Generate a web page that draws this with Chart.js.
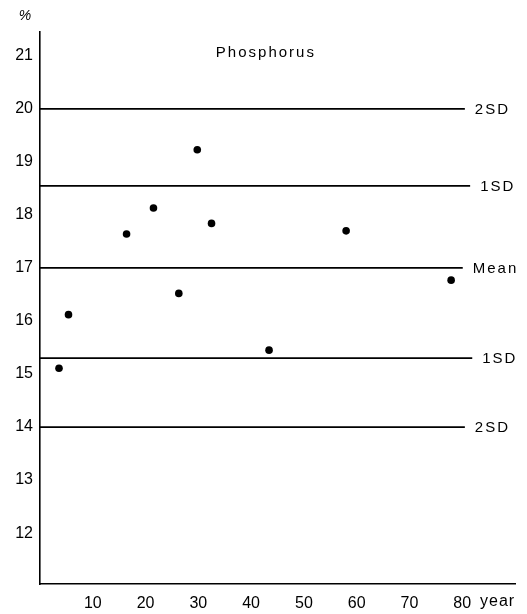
<!DOCTYPE html>
<html>
<head>
<meta charset="utf-8">
<script src="https://cdn.jsdelivr.net/npm/chart.js@4.4.1/dist/chart.umd.min.js"></script>
<style>
    html, body { margin: 0; padding: 0; background: #fff; }
    canvas { display: block; }
</style>
</head>
<body>
<canvas id="chart" width="527" height="614"></canvas>
<script>
// ==================== DATA ====================

// age (years) and phosphorus (%) of each sample
const ages = [3.6, 5.4, 16.4, 21.5, 26.3, 29.8, 32.5, 43.4, 58.0, 77.9];
const phosphorus = [15.11, 16.12, 17.64, 18.13, 16.52, 19.23, 17.84, 15.45, 17.70, 16.77];

// reference lines (mean and standard deviations)
const refLabels = ['2SD', '1SD', 'Mean', '1SD', '2SD'];
const refLevels = [20.0, 18.55, 17.0, 15.3, 14.0];
const refEnds = [80.5, 81.5, 80.1, 81.9, 80.5];

const xTicks = [10, 20, 30, 40, 50, 60, 70, 80];
const yTicks = [12, 13, 14, 15, 16, 17, 18, 19, 20, 21];

const FONT = "'Liberation Sans', Arial, sans-serif";
const INK = '#000';

// ==================== CHART ====================

const refDatasets = refLevels.map((level, i) => ({
    label: refLabels[i],
    data: [{ x: 0, y: level }, { x: refEnds[i], y: level }],
    showLine: true,
    borderColor: INK,
    borderWidth: 1.8,
    pointRadius: 0
}));

// textes libres : titre, unités, étiquettes des lignes
const annotations = {
    id: 'annotations',
    afterDraw(chart) {
        const ctx = chart.ctx;
        const x = chart.scales.x;
        const y = chart.scales.y;
        ctx.save();
        ctx.fillStyle = INK;
        ctx.textBaseline = 'middle';

        ctx.font = '15px ' + FONT;
        ctx.letterSpacing = '2px';
        ctx.textAlign = 'left';
        refLevels.forEach((level, i) => {
            ctx.fillText(refLabels[i], x.getPixelForValue(refEnds[i]) + 10, y.getPixelForValue(level) + 1);
        });

        ctx.textAlign = 'center';
        ctx.fillText('Phosphorus', x.getPixelForValue(42.8), y.getPixelForValue(21.05));

        ctx.letterSpacing = '1px';
        ctx.font = '16px ' + FONT;
        ctx.textAlign = 'left';
        ctx.fillText('year', chart.chartArea.right - 35, 602);

        ctx.letterSpacing = '0px';
        ctx.font = 'italic 14px ' + FONT;
        ctx.textAlign = 'center';
        ctx.fillText('%', 25, 16);
        ctx.restore();
    }
};

new Chart(document.getElementById('chart'), {
    type: 'scatter',
    data: {
        datasets: [
            ...refDatasets,
            {
                label: 'Phosphorus',
                data: ages.map((a, i) => ({ x: a, y: phosphorus[i] })),
                backgroundColor: INK,
                borderColor: INK,
                pointRadius: 3.8,
                pointBorderWidth: 0
            }
        ]
    },
    options: {
        responsive: false,
        animation: false,
        layout: {
            padding: { top: 32, right: 12, left: 0, bottom: 0 }
        },
        plugins: {
            legend: { display: false },
            tooltip: { enabled: false }
        },
        scales: {
            x: {
                type: 'linear',
                min: 0,
                max: 90,
                afterFit: (axis) => { axis.height = 30; },
                afterBuildTicks: (axis) => { axis.ticks = xTicks.map(v => ({ value: v })); },
                grid: { display: false, drawTicks: false },
                border: { display: true, color: INK, width: 1.6 },
                ticks: {
                    color: INK,
                    padding: 10,
                    maxRotation: 0,
                    font: { family: FONT, size: 16 }
                }
            },
            y: {
                type: 'linear',
                min: 11.04,
                max: 21.45,
                afterFit: (axis) => { axis.width = 40; },
                afterBuildTicks: (axis) => { axis.ticks = yTicks.map(v => ({ value: v })); },
                grid: { display: false, drawTicks: false },
                border: { display: true, color: INK, width: 1.6 },
                ticks: {
                    color: INK,
                    padding: 7,
                    font: { family: FONT, size: 16 }
                }
            }
        }
    },
    plugins: [annotations]
});
</script>
</body>
</html>
